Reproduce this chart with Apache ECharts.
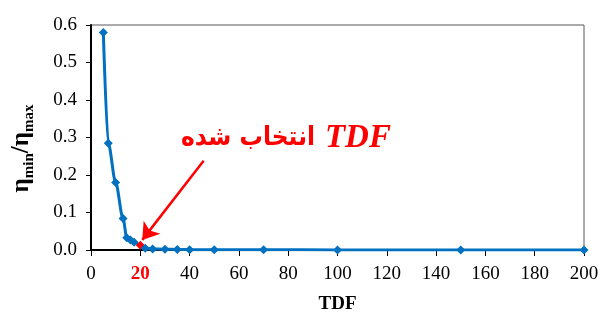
<!DOCTYPE html>
<html>
<head>
<meta charset="utf-8">
<script src="https://cdn.jsdelivr.net/npm/echarts@6/dist/echarts.min.js"></script>
<style>
  html, body { margin: 0; padding: 0; background: #fff; }
  #chart { width: 600px; height: 316px; }
</style>
</head>
<body>
<div id="chart"></div>
<script>
// TDF values and the normalised ratio
const tdf = [5, 7, 10, 13, 14.5, 16, 17.5, 20, 22, 25, 30, 35, 40, 50, 70, 100, 150, 200];
const ratio = [0.58, 0.285, 0.18, 0.084, 0.033, 0.027, 0.021, 0.013, 0.005, 0.003, 0.002, 0.0015, 0.001, 0.0008, 0.0005, 0.0003, 0.0002, 0.0001];
const selectedTdf = 20;
// arrow from the note down to the chosen point (data coords)
const arrowFrom = [45.7, 0.238];
const arrowTo = [20.8, 0.027];
const noteFa = 'انتخاب شده';
const noteEn = 'TDF';

const chart = echarts.init(document.getElementById('chart'));

const seriesData = tdf.map((x, i) => {
  const item = { value: [x, ratio[i]] };
  if (x === selectedTdf) item.itemStyle = { color: '#ff0000' };
  return item;
});

const serif = '"Liberation Serif", "Times New Roman", serif';

chart.setOption({
  animation: false,
  grid: {
    left: 91, right: 16, top: 25, bottom: 66,
    outerBoundsMode: 'none',
    containLabel: false,
    show: true, borderColor: '#595959', borderWidth: 1
  },
  xAxis: {
    type: 'value',
    min: 0, max: 200, interval: 20,
    name: 'TDF',
    nameLocation: 'middle',
    nameGap: 45,
    nameTextStyle: { fontFamily: serif, fontSize: 19, fontWeight: 'bold', color: '#000' },
    axisLine: { show: true, lineStyle: { color: '#000', width: 2 } },
    axisTick: { show: true, length: 6, lineStyle: { color: '#000', width: 1 } },
    splitLine: { show: false },
    axisLabel: {
      margin: 15,
      fontFamily: serif, fontSize: 19, color: '#000',
      formatter: v => v === selectedTdf ? '{sel|' + v + '}' : String(v),
      rich: { sel: { fontFamily: serif, fontSize: 19, fontWeight: 'bold', color: '#ff0000' } }
    }
  },
  yAxis: {
    type: 'value',
    min: 0, max: 0.6, interval: 0.1,
    name: '{eta|η}{sub|min}{eta|/η}{sub|max}',
    nameLocation: 'middle',
    nameGap: 54,
    nameTextStyle: {
      padding: [0, 22, 0, 0],
      rich: {
        eta: { fontFamily: serif, fontSize: 25, fontWeight: 'bold', color: '#000', lineHeight: 30, verticalAlign: 'middle' },
        sub: { fontFamily: serif, fontSize: 15, fontWeight: 'bold', color: '#000', lineHeight: 18, verticalAlign: 'bottom' }
      }
    },
    axisLine: { show: true, lineStyle: { color: '#000', width: 2 } },
    axisTick: { show: true, length: 5, lineStyle: { color: '#000', width: 1 } },
    splitLine: { show: false },
    axisLabel: {
      margin: 14,
      fontFamily: serif, fontSize: 19, color: '#000',
      formatter: v => v.toFixed(1)
    }
  },
  series: [{
    type: 'line',
    data: seriesData,
    smooth: 0.3,
    smoothMonotone: 'x',
    symbol: 'diamond',
    symbolSize: 9,
    showSymbol: true,
    lineStyle: { color: '#0070c0', width: 3 },
    itemStyle: { color: '#0070c0' },
    z: 3,
    markLine: {
      silent: true,
      animation: false,
      symbolSize: 16,
      label: { show: false },
      lineStyle: { color: '#ff0000', width: 2.5, type: 'solid' },
      data: [[
        { coord: arrowFrom, symbol: 'none' },
        { coord: arrowTo, symbol: 'arrow' }
      ]]
    }
  }],
  graphic: [{
    type: 'text',
    x: 181, y: 138,
    style: {
      text: '{fa|' + noteFa + '}{en|' + noteEn + '}',
      verticalAlign: 'middle',
      rich: {
        fa: { fontFamily: '"DejaVu Sans Condensed", "DejaVu Sans", sans-serif', fontSize: 26, fontWeight: 'bold', fill: '#ff0000', padding: [0, 10, 0, 0] },
        en: { fontFamily: serif, fontSize: 33, fontWeight: 'bold', fontStyle: 'italic', fill: '#ff0000' }
      }
    }
  }]
});
</script>
</body>
</html>
